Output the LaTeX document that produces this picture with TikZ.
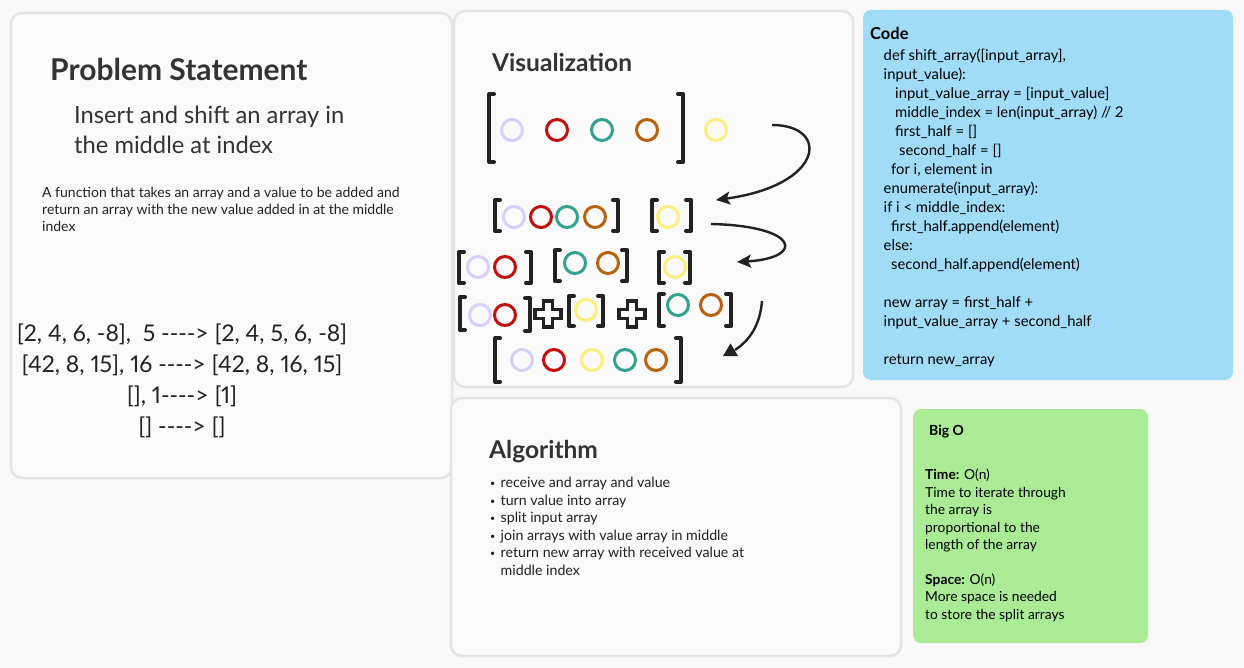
\documentclass[tikz,border=0pt]{standalone}
\usepackage{fontspec}
\setmainfont{Lato}[Ligatures=TeXOff,Numbers=Proportional]
\usetikzlibrary{arrows.meta}
\definecolor{bg}{HTML}{F8F8F8}
\definecolor{card}{HTML}{FAFAFA}
\definecolor{edge}{HTML}{E4E4E4}
\definecolor{ink}{HTML}{222222}
\definecolor{head}{HTML}{333333}
\definecolor{codebg}{HTML}{A0DCF8}
\definecolor{bigobg}{HTML}{AAEC95}
\definecolor{lav}{HTML}{DACEFC}
\definecolor{red}{HTML}{C30E0E}
\definecolor{teal}{HTML}{34A08F}
\definecolor{rust}{HTML}{B8610F}
\definecolor{sun}{HTML}{FCEF7E}
\newcommand\lbr[3]{\draw[brk] (#1+5,#2) -- (#1,#2) -- (#1,#3) -- (#1+5,#3);}
\newcommand\rbr[3]{\draw[brk] (#1-5,#2) -- (#1,#2) -- (#1,#3) -- (#1-5,#3);}
\newcommand\plusbox[2]{\draw[brk,line width=3.5pt,line cap=butt,line join=miter]
  (#1-4.5,#2-13) -- ++(9,0) -- ++(0,8.5) -- ++(8.5,0) -- ++(0,9) -- ++(-8.5,0) -- ++(0,8.5)
  -- ++(-9,0) -- ++(0,-8.5) -- ++(-8.5,0) -- ++(0,-9) -- ++(8.5,0) -- cycle;}
\newcommand\dotitem{\makebox[10.5pt][l]{\raisebox{1pt}{\fontsize{9}{9}\selectfont\textbullet}}}
\tikzset{
  panel/.style={draw=edge,line width=2.5pt,fill=card,rounded corners=11pt},
  ring/.style={draw=#1,line width=3pt},
  brk/.style={ink,line width=4pt,line cap=round,line join=round},
  flow/.style={ink,line width=2.4pt,-{Stealth[length=14pt,width=13pt,inset=3pt]}},
  txt/.style={anchor=base west,inner sep=0pt,text=ink,align=left},
}
\begin{document}
\begin{tikzpicture}[x=1pt,y=-1pt]
\fill[bg] (0,0) rectangle (1244,668);
\useasboundingbox (0,0) rectangle (1244,668);
\draw[panel] (11,13) rectangle (452,478);
\draw[panel] (454,11) rectangle (853,387);
\draw[panel] (451,398) rectangle (901,656);
\fill[codebg,rounded corners=8pt] (863,10) rectangle (1233,380);
\fill[bigobg,rounded corners=8pt] (913,409) rectangle (1148,643);

\node[txt,text=head,font=\fontsize{30}{30}\selectfont\bfseries] (ptitle) at (50,80.5) {Problem Statement};
\node[txt,text=head,font=\fontsize{23.7}{29.5}\selectfont] (pgoal) at (74,153.5) {Insert and shift an array in\\the middle at index};
\node[txt,font=\fontsize{14}{17.3}\selectfont] (pdesc) at (42,232) {A function that takes an array and a value to be added and\\return an array with the new value added in at the middle\\index};
\node[anchor=base,inner sep=0pt,text=ink,align=center,font=\fontsize{23}{30.8}\selectfont] (pex) at (182,434)
  {{[2, 4, 6, -8],\ \ 5 ----> [2, 4, 5, 6, -8]}\\{[42, 8, 15], 16 ----> [42, 8, 16, 15]}\\{[], 1----> [1]}\\{[] ----> []}};

\node[txt,text=head,font=\fontsize{24.5}{26}\selectfont\bfseries] (vtitle) at (492,72) {Visualization};
\node[txt,text=head,font=\fontsize{24.5}{26}\selectfont\bfseries] (atitle) at (489,458) {Algorithm};
\node[txt,font=\fontsize{14.2}{17.5}\selectfont] (asteps) at (490,575) {%
  \dotitem receive and array and value\\
  \dotitem turn value into array\\
  \dotitem split input array\\
  \dotitem join arrays with value array in middle\\
  \dotitem return new array with received value at\\
  \hspace*{10.5pt}middle index};

\node[txt,text=black,font=\fontsize{16.5}{19}\selectfont\bfseries] (ctitle) at (870,40) {Code};
\node[txt,text=black,font=\fontsize{14.8}{19}\selectfont] (cbody) at (883.5,364) {%
  def shift\_array([input\_array],\\
  input\_value):\\
  \hspace*{11.5pt}input\_value\_array = [input\_value]\\
  \hspace*{11.5pt}middle\_index = len(input\_array) // 2\\
  \hspace*{11.5pt}first\_half = {[]}\\
  \hspace*{15.5pt}second\_half = {[]}\\
  \hspace*{7.5pt}for i, element in\\
  enumerate(input\_array):\\
  if i < middle\_index:\\
  \hspace*{7.5pt}first\_half.append(element)\\
  else:\\
  \hspace*{7.5pt}second\_half.append(element)\\
  \strut\\
  new array = first\_half +\\
  input\_value\_array + second\_half\\
  \strut\\
  return new\_array};

\node[txt,text=black,font=\fontsize{14}{17}\selectfont\bfseries] (btitle) at (929,435) {Big O};
\node[txt,text=black,font=\fontsize{13.8}{17.4}\selectfont] (bbody) at (925,619) {%
  \textbf{Time:} O(n)\\
  Time to iterate through\\
  the array is\\
  proportional to the\\
  length of the array\\
  \strut\\
  \textbf{Space:} O(n)\\
  More space is needed\\
  to store the split arrays};

\lbr{489}{94}{162} \rbr{683}{94}{162}
\lbr{495}{200}{231} \rbr{618}{200}{231} \lbr{652}{200}{231} \rbr{691}{200}{231}
\lbr{459}{252}{283} \rbr{531}{252}{283} \lbr{555}{250}{281} \rbr{627}{250}{281} \lbr{659}{252}{283} \rbr{690}{252}{283}
\lbr{460}{297}{330} \rbr{530}{298}{331} \lbr{569}{296}{326} \rbr{603}{296}{326} \lbr{659}{294}{326} \rbr{731}{294}{326}
\lbr{495}{338}{382} \rbr{681}{338}{382}
\plusbox{548}{314}
\plusbox{632}{314}
\foreach \x/\y/\c in {512/130/lav,557/130/red,602/130/teal,647/130/rust,716/130/sun,
  514/217/lav,541/217/red,567/217/teal,595/217/rust,668/217/sun,
  478/267/lav,505/267/red,575/263/teal,608/263/rust,675/267/sun,
  480/315/lav,505/315/red,586/310/sun,678/305/teal,711/305/rust,
  522/360/lav,554/360/red,592/360/sun,625/360/teal,656/360/rust} {
  \draw[ring=\c] (\x,\y) circle (10.5);
}

\coordinate (r1out) at (772,125);
\coordinate (r2in) at (716,200);
\coordinate (r2out) at (711,224);
\coordinate (r3in) at (737,262);
\coordinate (r4out) at (762,301);
\coordinate (r5in) at (735,350);
\draw[flow] (r1out) .. controls (830,125) and (825,185) .. (r2in);
\draw[flow] (r2out) .. controls (800,226) and (805,258) .. (r3in);
\draw[ink,line width=2.4pt] (r4out) .. controls (760,325) and (750,340) .. (r5in);
\fill[ink] (r5in) ++(-12,6) -- ++(15,0) -- ++(-7.5,-12.5) -- cycle;
\end{tikzpicture}
\end{document}
